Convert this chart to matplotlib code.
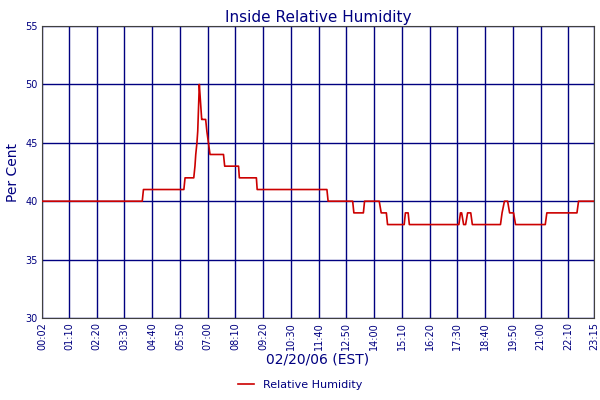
import matplotlib
matplotlib.use("Agg")
import matplotlib.pyplot as plt

minutes = [2, 255, 258, 360, 363, 385, 388, 390, 393, 395, 397, 399, 401, 403, 405, 407,
           415, 418, 422, 426, 460, 463, 498, 500, 543, 545, 721, 724,
           786, 789, 813, 816, 853, 858, 871, 874, 916, 919, 926, 929,
           1054, 1058, 1061, 1066, 1071, 1076, 1084, 1088, 1159, 1163, 1169, 1177, 1182, 1192, 1197,
           1272, 1276, 1352, 1356, 1395]
humidity = [40, 40, 41, 41, 42, 42, 43, 44, 45, 46, 48, 50, 49, 48, 47, 47,
            47, 46, 45, 44, 44, 43, 43, 42, 42, 41, 41, 40,
            40, 39, 39, 40, 40, 39, 39, 38, 38, 39, 39, 38,
            38, 39, 39, 38, 38, 39, 39, 38, 38, 39, 40, 40, 39, 39, 38,
            38, 39, 39, 40, 40]
tick_pos = [2] + [70 * k for k in range(1, 20)] + [1395]
tick_labels = ["00:02", "01:10", "02:20", "03:30", "04:40", "05:50", "07:00", "08:10", "09:20",
               "10:30", "11:40", "12:50", "14:00", "15:10", "16:20", "17:30", "18:40", "19:50",
               "21:00", "22:10", "23:15"]

navy = "#000080"
fig = plt.figure(figsize=(6, 4), dpi=100)
ax = fig.add_axes([0.07, 0.205, 0.92, 0.73])
ax.plot(minutes, humidity, color="#cc0000", lw=1.2, zorder=3, label="Relative Humidity")
ax.set_xlim(2, 1395)
ax.set_ylim(30, 55)
ax.set_xticks(tick_pos)
ax.set_xticklabels(tick_labels, rotation=90, fontsize=7, color=navy)
ax.set_yticks(range(30, 56, 5))
ax.set_yticklabels([str(v) for v in range(30, 56, 5)], fontsize=7, color=navy)
ax.grid(True, color=navy, lw=1)
ax.tick_params(length=0, pad=3)
for s in ax.spines.values():
    s.set_color("#404040")
ax.set_title("Inside Relative Humidity", color=navy, fontsize=11, pad=3)
ax.set_ylabel("Per Cent", color=navy, fontsize=10)
ax.set_xlabel("02/20/06 (EST)", color=navy, fontsize=10, labelpad=2)
fig.legend(loc="lower center", bbox_to_anchor=(0.5, 0.0), frameon=False, fontsize=8,
           labelcolor=navy, handlelength=1.5)
fig.savefig("out.png", dpi=100)
